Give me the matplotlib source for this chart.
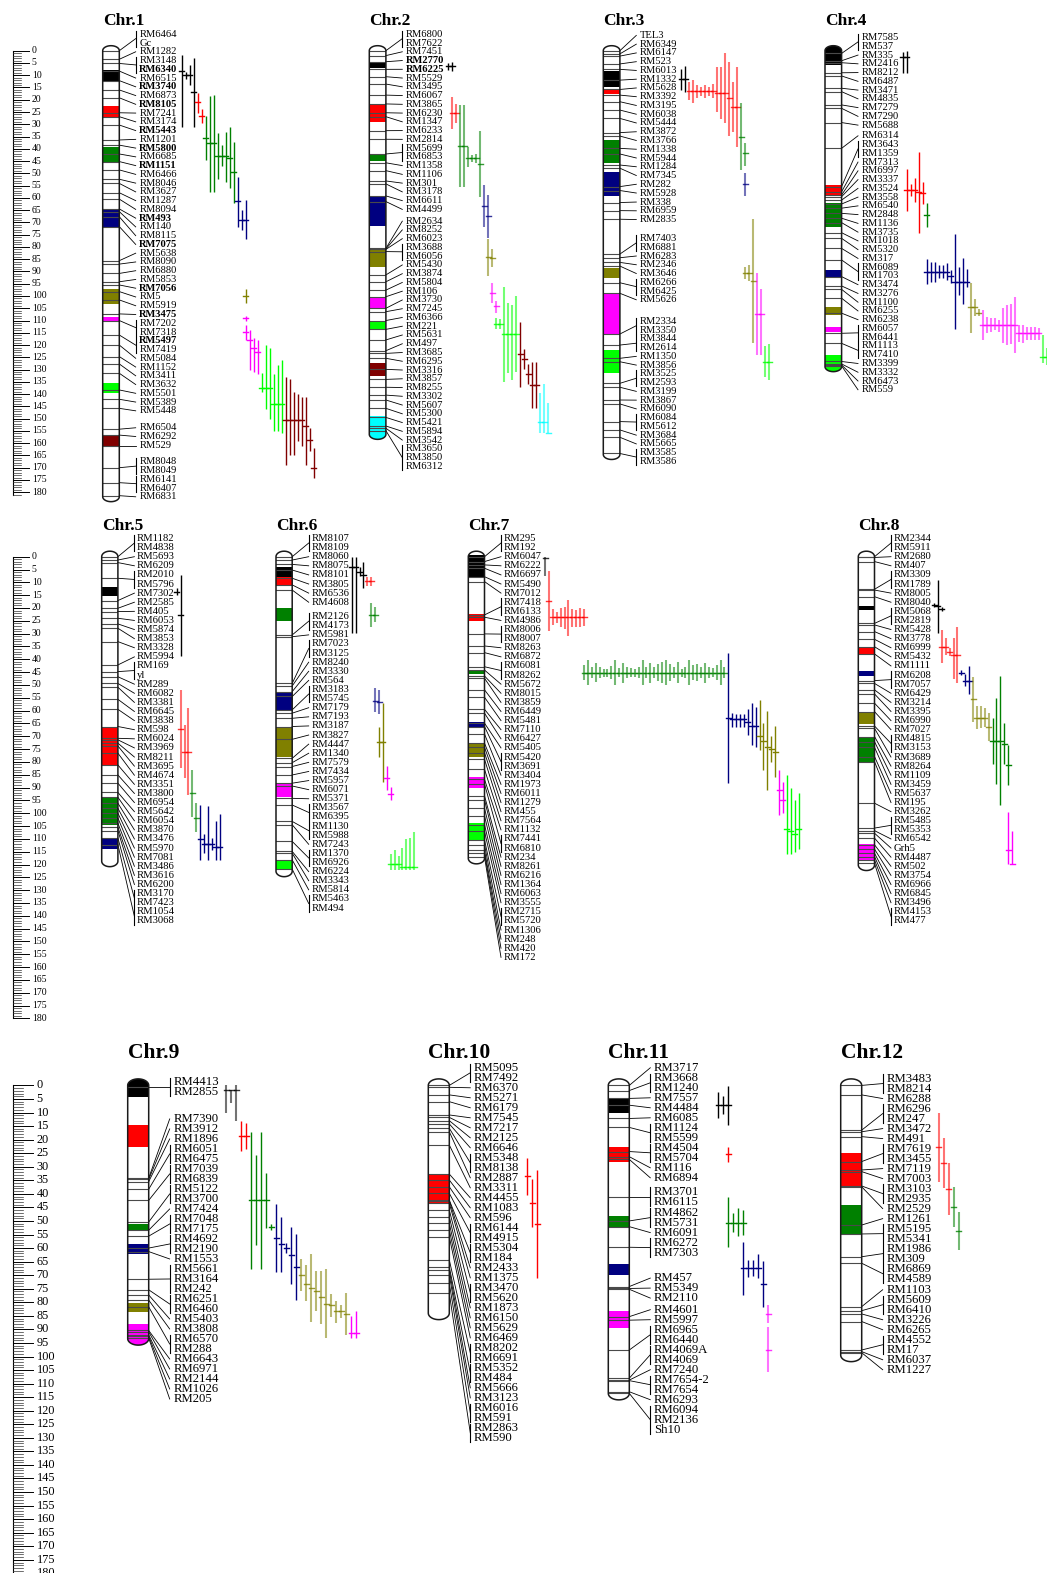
import numpy as np
import matplotlib
matplotlib.use("Agg")
import matplotlib.pyplot as plt
from matplotlib.path import Path
from matplotlib.patches import PathPatch, Rectangle

plt.rcParams['font.family'] = ['Liberation Serif', 'DejaVu Serif']

COLORS = {"black": "#000000", "red": "#ff0000", "green": "#008000", "navy": "#000080",
          "olive": "#808000", "magenta": "#ff00ff", "lime": "#00ff00", "maroon": "#800000",
          "cyan": "#00ffff"}

# ---------------- map data (cM) ----------------
chr1_markers = [("RM6464", 0), ("Gc", 0), ("RM1282", 3.5), ("RM3148", 5.2), ("RM6340", 5.2), ("RM6515", 8.3),
                ("RM3740", 12.2), ("RM6873", 16), ("RM8105", 19.2), ("RM7241", 25.3), ("RM3174", 26.9),
                ("RM5443", 30.3), ("RM1201", 36.4), ("RM5800", 38.5), ("RM6685", 42.1), ("RM1151", 45.2),
                ("RM6466", 48.6), ("RM8046", 52.4), ("RM3627", 54.1), ("RM1287", 57.9), ("RM8094", 60.5),
                ("RM493", 64.5), ("RM140", 65.6), ("RM8115", 67.7), ("RM7075", 71.7), ("RM5638", 85.6),
                ("RM8090", 87), ("RM6880", 90.8), ("RM5853", 94.2), ("RM7056", 95.5), ("RM5", 98.2),
                ("RM5919", 101.6), ("RM3475", 107.3), ("RM7202", 110), ("RM7318", 110), ("RM5497", 115.9),
                ("RM7419", 115.9), ("RM5084", 120), ("RM1152", 124.7), ("RM3411", 127.7), ("RM3632", 131.5),
                ("RM5501", 138.3), ("RM5389", 142.1), ("RM5448", 145.8), ("RM6504", 154.3), ("RM6292", 156.7),
                ("RM529", 161.1), ("RM8048", 170), ("RM8049", 170), ("RM6141", 176.1), ("RM6407", 176.1),
                ("RM6831", 181.4)]
chr1_bold = ["RM6340", "RM3740", "RM8105", "RM5443", "RM5800", "RM1151", "RM493", "RM7075", "RM7056",
             "RM3475", "RM5497"]
chr1_bands = [("black", 7.9, 12.2), ("red", 22.4, 27.3), ("green", 39.1, 45.2), ("navy", 64.5, 71.7),
              ("olive", 97.3, 103.3), ("magenta", 108.4, 110.5), ("lime", 135.6, 139.4), ("maroon", 156.7, 161.1)]
chr1_qtl = [("black", 1.8, 8.2, 31.0), ("black", 8.6, 9.9, 11.5), ("black", 5.8, 9.9, 14.0), ("black", 2.9, 17.0, 31.3),
            ("red", 17.1, 20.8, 25.3), ("red", 23.9, 26.6, 29.3),
            ("green", 26.6, 35.7, 44.6), ("green", 18.5, 37.8, 57.5), ("green", 18.1, 37.8, 57.5),
            ("green", 33.4, 42.9, 52.4), ("green", 38.5, 42.9, 47.0), ("green", 33.0, 42.9, 53.4),
            ("green", 31.0, 43.6, 56.1), ("green", 37.1, 49.6, 62.2),
            ("navy", 51.4, 61.3, 71.7), ("navy", 65.0, 69.0, 73.1), ("navy", 60.9, 69.0, 76.9),
            ("olive", 97.3, 100.0, 103.0),
            ("magenta", 108.2, 109.1, 110.0), ("magenta", 111.8, 114.5, 117.9), ("magenta", 113.9, 118.0, 130.0),
            ("magenta", 117.0, 121.0, 131.0), ("magenta", 118.0, 123.0, 132.0),
            ("lime", 131.5, 137.6, 139.0), ("lime", 120.0, 137.6, 146.0), ("lime", 121.0, 137.6, 150.0),
            ("lime", 132.0, 144.0, 155.0), ("lime", 128.0, 144.0, 155.0), ("lime", 126.0, 144.0, 156.0),
            ("maroon", 133.0, 150.5, 169.0), ("maroon", 134.0, 150.5, 165.0), ("maroon", 139.0, 150.5, 165.0),
            ("maroon", 140.0, 150.5, 159.0), ("maroon", 141.0, 150.5, 161.0), ("maroon", 141.0, 153.0, 169.0),
            ("maroon", 154.0, 158.6, 163.0), ("maroon", 162.0, 170.0, 174.0)]

chr2_markers = [("RM6800", 0), ("RM7622", 0), ("RM7451", 2), ("RM2770", 4.5), ("RM6225", 7.6), ("RM5529", 10.6),
                ("RM3495", 13.6), ("RM6067", 18.1), ("RM3865", 21.7), ("RM6230", 25.3), ("RM1347", 26.9),
                ("RM6233", 32.6), ("RM2814", 36.1), ("RM5699", 42.1), ("RM6853", 42.1), ("RM1358", 45.7),
                ("RM1106", 48.9), ("RM301", 53.1), ("RM3178", 54.3), ("RM6611", 59.2), ("RM4499", 61.5),
                ("RM2634", 80.6), ("RM8252", 80.8), ("RM6023", 81.0), ("RM3688", 81.9), ("RM6056", 81.9),
                ("RM5430", 91.4), ("RM3874", 94.2), ("RM5804", 97.6), ("RM106", 100.3), ("RM3730", 105),
                ("RM7245", 106.4), ("RM6366", 110), ("RM221", 113.6), ("RM5631", 117.9), ("RM497", 122.3),
                ("RM3685", 123.4), ("RM6295", 125.4), ("RM3316", 129.9), ("RM3857", 134), ("RM8255", 137.2),
                ("RM3302", 140.4), ("RM5607", 142.4), ("RM5300", 145.8), ("RM5421", 149.5), ("RM5894", 153),
                ("RM3542", 153.9), ("RM3650", 154.9), ("RM3850", 154.9), ("RM6312", 154.9)]
chr2_bold = ["RM2770", "RM6225"]
chr2_bands = [("black", 4.9, 7.2), ("red", 22, 28.9), ("green", 42.5, 44.8), ("navy", 59.2, 71.5),
              ("olive", 81.2, 88), ("magenta", 100.5, 105), ("lime", 110.5, 113.6), ("maroon", 127.2, 132.6),
              ("cyan", 149, 160)]
chr2_qtl = [("black", 5.2, 6.3, 7.9), ("black", 4.5, 6.3, 8.2),
            ("red", 19.0, 25.3, 32.1), ("red", 21.7, 25.3, 29.3),
            ("green", 22.1, 38.9, 55.7), ("green", 22.1, 38.9, 55.7), ("green", 39.1, 43.9, 47.3),
            ("green", 42.5, 43.9, 45.2), ("green", 42.1, 43.9, 45.7), ("green", 32.6, 46.2, 59.8),
            ("navy", 54.8, 63.3, 71.7), ("navy", 58.8, 67.4, 76.5),
            ("olive", 76.9, 84.2, 91.8), ("olive", 81.0, 84.6, 88.3),
            ("magenta", 94.6, 98.6, 102.7), ("magenta", 101.9, 104.1, 106.8),
            ("lime", 109.1, 111.4, 113.6), ("lime", 109.5, 111.4, 113.6), ("lime", 96.5, 115.5, 134.9),
            ("lime", 103.0, 115.5, 131.5), ("lime", 103.7, 115.5, 134.2), ("lime", 100.0, 115.5, 130.8),
            ("maroon", 110.5, 123.6, 137.2), ("maroon", 121.7, 125.8, 129.9), ("maroon", 127.7, 131.8, 135.9),
            ("maroon", 126.8, 136.3, 145.8), ("maroon", 126.8, 136.3, 145.8),
            ("cyan", 139.7, 151.2, 155.7), ("cyan", 135.9, 151.2, 155.7), ("cyan", 143.5, 155.7, 156.0)]

chr3_markers = [("TEL3", 0), ("RM6349", 1.3), ("RM6147", 2.2), ("RM523", 5.4), ("RM6013", 7.6), ("RM1332", 12),
                ("RM5628", 15.8), ("RM3392", 18.1), ("RM3195", 20.8), ("RM6038", 24.2), ("RM5444", 27.6),
                ("RM3872", 33.4), ("RM3766", 34.8), ("RM1338", 39.8), ("RM5944", 42.1), ("RM1284", 46.6),
                ("RM7345", 47.9), ("RM282", 55.4), ("RM5928", 57), ("RM338", 61.9), ("RM6959", 65.2),
                ("RM2835", 68.7), ("RM7403", 82.9), ("RM6881", 82.9), ("RM6283", 84.4), ("RM2346", 86.3),
                ("RM3646", 87.8), ("RM6266", 94.6), ("RM6425", 94.6), ("RM5626", 98.9), ("RM2334", 115.5),
                ("RM3350", 115.5), ("RM3844", 120), ("RM2614", 120), ("RM1350", 125.4), ("RM3856", 126.8),
                ("RM3525", 135.6), ("RM2593", 135.6), ("RM3199", 137.2), ("RM3867", 142.4), ("RM6090", 144),
                ("RM6084", 151.2), ("RM5612", 151.2), ("RM3684", 154.6), ("RM5665", 157.6), ("RM3585", 164.2),
                ("RM3586", 164.2)]
chr3_bands = [("black", 8.1, 14.7), ("red", 15.5, 17.6), ("green", 36.4, 45.9), ("navy", 49.3, 59.2),
              ("olive", 88.7, 92.8), ("magenta", 98.9, 115.9), ("lime", 122, 131.5)]
chr3_qtl = [("black", 7.6, 11.5, 16.0), ("black", 6.2, 11.5, 16.7),
            ("red", 12.6, 16.4, 20.1), ("red", 11.9, 16.4, 21.2), ("red", 14.0, 16.4, 19.4), ("red", 14.7, 16.4, 18.5),
            ("red", 14.0, 16.4, 19.4), ("red", 14.7, 16.4, 18.5), ("red", 13.6, 16.4, 19.4), ("red", 6.5, 17.1, 24.8),
            ("red", 6.5, 17.1, 27.9), ("red", 0.8, 17.1, 29.6), ("red", 4.5, 19.4, 34.8), ("red", 12.6, 22.8, 33.0),
            ("red", 6.8, 22.8, 39.1),
            ("green", 21.2, 35.0, 48.6), ("green", 37.5, 41.8, 47.0),
            ("navy", 49.7, 54.3, 59.2),
            ("olive", 88.3, 90.7, 93.2), ("olive", 87.4, 90.5, 93.7), ("olive", 68.7, 93.7, 119.3),
            ("magenta", 90.5, 107.3, 124.0), ("magenta", 97.3, 107.3, 124.0),
            ("lime", 120.4, 126.8, 133.1), ("lime", 119.6, 126.8, 134.2)]

chr4_markers = [("RM7585", 1.1), ("RM537", 1.1), ("RM335", 4.1), ("RM2416", 4.9), ("RM8212", 9), ("RM6487", 10.3),
                ("RM3471", 15.3), ("RM4835", 16.7), ("RM7279", 22.1), ("RM7290", 23.5), ("RM5688", 29.3),
                ("RM6314", 39.8), ("RM3643", 55.4), ("RM1359", 55.4), ("RM7313", 57.5), ("RM6997", 58.8),
                ("RM3337", 59.5), ("RM3524", 60.9), ("RM3558", 62.5), ("RM6540", 64.2), ("RM2848", 66.3),
                ("RM1136", 68.3), ("RM3735", 70.1), ("RM1018", 74.2), ("RM5320", 76.5), ("RM317", 80.6),
                ("RM6089", 85.3), ("RM1703", 85.3), ("RM3474", 92.1), ("RM3276", 95.9), ("RM1100", 97.3),
                ("RM6255", 100.9), ("RM6238", 107), ("RM6057", 115.2), ("RM6441", 115.2), ("RM1113", 119.3),
                ("RM7410", 119.3), ("RM3399", 126.7), ("RM3332", 127.7), ("RM6473", 128.1), ("RM559", 128.5)]
chr4_bands = [("black", -3, 5.8), ("red", 54.8, 58.8), ("green", 61.9, 72), ("navy", 89.4, 92.1),
              ("olive", 104.3, 107.7), ("magenta", 112.7, 114.5), ("lime", 124, 132)]
chr4_qtl = [("black", 0.4, 2.7, 9.0), ("black", 0.0, 2.7, 9.2),
            ("red", 48.4, 56.8, 65.2), ("red", 54.4, 56.8, 59.2), ("red", 52.0, 56.8, 61.5), ("red", 41.2, 57.5, 74.4),
            ("red", 53.4, 57.9, 62.5),
            ("green", 61.9, 67.0, 72.0),
            ("navy", 85.0, 90.1, 95.1), ("navy", 86.0, 90.1, 94.1), ("navy", 86.0, 90.1, 94.1),
            ("navy", 87.4, 90.1, 92.8), ("navy", 87.4, 90.1, 92.8), ("navy", 86.7, 90.1, 93.5),
            ("navy", 89.4, 91.8, 94.8), ("navy", 74.7, 94.2, 113.6), ("navy", 88.0, 94.2, 99.6),
            ("navy", 84.6, 94.2, 103.2), ("navy", 89.1, 94.2, 96.2),
            ("olive", 94.8, 104.6, 114.9), ("olive", 101.3, 104.6, 108.1), ("olive", 105.4, 106.8, 108.1),
            ("magenta", 105.7, 111.8, 117.9), ("magenta", 108.4, 111.8, 114.9), ("magenta", 109.1, 111.8, 114.5),
            ("magenta", 109.1, 111.8, 113.8), ("magenta", 109.8, 111.8, 114.5), ("magenta", 105.0, 111.8, 119.3),
            ("magenta", 103.6, 111.8, 120.0), ("magenta", 103.2, 111.8, 119.6), ("magenta", 100.3, 111.8, 123.1),
            ("magenta", 111.8, 115.2, 118.6), ("magenta", 111.8, 115.2, 119.0), ("magenta", 112.5, 115.2, 117.9),
            ("magenta", 112.5, 115.2, 117.9), ("magenta", 112.5, 115.2, 117.9), ("magenta", 113.2, 115.2, 117.9),
            ("lime", 115.9, 125.0, 127.4), ("lime", 121.3, 125.0, 128.1)]

chr5_markers = [("RM1182", 0), ("RM4838", 0), ("RM5693", 1.3), ("RM6209", 2.3), ("RM2010", 8.4), ("RM5796", 8.4),
                ("RM7302", 17.1), ("RM2585", 20.1), ("RM405", 21.4), ("RM6053", 24), ("RM5874", 26.2),
                ("RM3853", 27.9), ("RM3328", 33.1), ("RM5994", 42.2), ("RM169", 44.8), ("yl", 44.8),
                ("RM289", 46.8), ("RM6082", 49.4), ("RM3381", 50.9), ("RM6645", 55.6), ("RM3838", 59.5),
                ("RM598", 66.2), ("RM6024", 70.8), ("RM3969", 71.4), ("RM8211", 72.7), ("RM3695", 73.8),
                ("RM4674", 76.6), ("RM3351", 81.2), ("RM3800", 85.1), ("RM6954", 88.3), ("RM5642", 91.9),
                ("RM6054", 93.8), ("RM3870", 96.1), ("RM3476", 98.1), ("RM5970", 100), ("RM7081", 101.9),
                ("RM3486", 103.9), ("RM3616", 105.5), ("RM6200", 106.8), ("RM3170", 109.7), ("RM7423", 109.7),
                ("RM1054", 112.3), ("RM3068", 112.3)]
chr5_bands = [("black", 11.9, 15.3), ("red", 66.2, 81.6), ("green", 93.8, 104.5), ("navy", 110.1, 114)]
chr5_qtl = [("black", 12.3, 13.6, 14.9), ("black", 7.1, 22.7, 38.6),
            ("red", 51.9, 67.3, 82.5), ("red", 65.6, 76.0, 86.4), ("red", 59.1, 76.0, 92.9),
            ("green", 83.1, 92.2, 101.3), ("green", 96.1, 101.9, 107.5),
            ("navy", 96.8, 110.1, 118.4), ("navy", 108.0, 111.9, 115.6), ("navy", 97.2, 111.9, 118.4),
            ("navy", 109.7, 111.9, 114.5), ("navy", 102.9, 113.2, 118.4), ("navy", 100.3, 113.2, 118.4)]

chr6_markers = [("RM8107", 0), ("RM8109", 0), ("RM8060", 1.3), ("RM8075", 3), ("RM8101", 5.2), ("RM3805", 8.4),
                ("RM6536", 11), ("RM4608", 13), ("RM2126", 30.5), ("RM4173", 30.5), ("RM5981", 31.2),
                ("RM7023", 49.4), ("RM3125", 49.4), ("RM8240", 50.4), ("RM3330", 52.6), ("RM564", 54.5),
                ("RM3183", 59.7), ("RM5745", 59.7), ("RM7179", 61), ("RM7193", 63), ("RM3187", 66.2),
                ("RM3827", 71.2), ("RM4447", 78.6), ("RM1340", 80.3), ("RM7579", 81.8), ("RM7434", 85.1),
                ("RM5957", 88.3), ("RM6071", 89.4), ("RM5371", 94.2), ("RM3567", 96.8), ("RM6395", 96.8),
                ("RM1130", 103.2), ("RM5988", 103.2), ("RM7243", 104.5), ("RM1370", 111), ("RM6926", 111),
                ("RM6224", 114.9), ("RM3343", 115.6), ("RM5814", 118.2), ("RM5463", 121.8), ("RM494", 121.8)]
chr6_bands = [("black", 4.2, 7.8), ("red", 7.8, 11), ("green", 20.1, 24.9), ("navy", 52.6, 59.7),
              ("olive", 66.5, 78.2), ("magenta", 88.3, 93.8), ("lime", 118.4, 121.8)]
chr6_qtl = [("black", 0.0, 4.2, 29.6), ("black", 0.0, 4.2, 29.6), ("black", 4.2, 5.8, 7.5), ("black", 2.0, 7.1, 12.3),
            ("red", 7.8, 9.4, 11.4), ("red", 7.8, 9.4, 11.4),
            ("green", 17.9, 22.7, 27.3), ("green", 19.7, 22.7, 25.3),
            ("navy", 51.3, 56.1, 60.4), ("navy", 51.9, 56.5, 61.3),
            ("olive", 66.2, 72.3, 78.2), ("olive", 56.9, 72.3, 87.7),
            ("magenta", 81.6, 86.4, 90.9), ("magenta", 89.6, 92.5, 94.8),
            ("lime", 115.8, 119.7, 122.3), ("lime", 114.3, 119.7, 122.1), ("lime", 116.6, 119.7, 122.3),
            ("lime", 113.6, 120.8, 122.1), ("lime", 110.1, 120.8, 122.1), ("lime", 109.7, 120.8, 122.1),
            ("lime", 107.5, 120.8, 122.1)]

chr7_markers = [("RM295", 0), ("RM192", 0), ("RM6047", 1.9), ("RM6222", 3.2), ("RM6697", 4.5), ("RM5490", 7.8),
                ("RM7012", 9.7), ("RM7418", 22.7), ("RM6133", 22.7), ("RM4986", 23.6), ("RM8006", 30.1),
                ("RM8007", 30.1), ("RM8263", 34.8), ("RM6872", 37.4), ("RM6081", 42.9), ("RM8262", 42.9),
                ("RM5672", 44.2), ("RM8015", 46.5), ("RM3859", 47.4), ("RM6449", 51.9), ("RM5481", 54.8),
                ("RM7110", 59.5), ("RM6427", 61), ("RM5405", 64.9), ("RM5420", 66.2), ("RM3691", 66.2),
                ("RM3404", 69.1), ("RM1973", 72.7), ("RM6011", 74.3), ("RM1279", 76.4), ("RM455", 79),
                ("RM7564", 82.9), ("RM1132", 86.8), ("RM7441", 88.6), ("RM6810", 88.6), ("RM234", 93.2),
                ("RM8261", 94.8), ("RM6216", 98.1), ("RM1364", 101), ("RM6063", 104.5), ("RM3555", 107.1),
                ("RM2715", 110.4), ("RM5720", 110.4), ("RM1306", 112.3), ("RM248", 114.5), ("RM420", 115.6),
                ("RM172", 117.1)]
chr7_bands = [("black", -0.6, 7.8), ("red", 22.3, 24.9), ("green", 44.4, 45.7), ("navy", 64.3, 66.5),
              ("olive", 72.7, 77.9), ("magenta", 86, 90.3), ("lime", 103.9, 110.4)]
chr7_green_lo = [42.2, 40.3, 42.9, 41.6, 43.1, 43.9, 43.9, 42.6, 40.3, 43.5, 41.3, 42.9, 43.5, 43.9, 43.1, 40.3,
                 42.9, 41.3, 42.9, 41.8, 40.9, 40.3, 41.8, 42.9, 40.9, 43.9, 42.9, 40.3, 42.2, 41.8, 42.9, 41.3,
                 42.9, 43.5, 42.2, 40.3, 42.9]
chr7_green_hi = [48.1, 50.0, 47.4, 48.7, 47.4, 46.8, 46.8, 47.8, 50.0, 47.0, 49.1, 47.4, 46.8, 46.8, 47.4, 50.0,
                 47.4, 49.1, 47.4, 48.3, 49.4, 50.0, 48.3, 47.4, 49.1, 46.8, 47.4, 50.0, 48.1, 48.3, 47.4, 49.1,
                 47.4, 47.0, 48.1, 50.0, 47.4]
chr7_qtl = ([("black", 0.0, 0.6, 7.5),
             ("red", 5.5, 17.1, 28.8), ("red", 20.5, 23.6, 26.6), ("red", 21.4, 23.6, 26.0), ("red", 20.1, 23.6, 27.3),
             ("red", 19.5, 23.6, 28.3), ("red", 16.9, 23.6, 30.9), ("red", 20.5, 23.6, 27.5), ("red", 20.8, 23.6, 27.3),
             ("red", 20.1, 23.6, 27.5), ("red", 20.5, 23.6, 27.0)]
            + [("green", lo, 45.2, hi) for lo, hi in zip(chr7_green_lo, chr7_green_hi)]
            + [("navy", 37.7, 63.0, 88.3), ("navy", 61.0, 63.4, 66.5), ("navy", 61.3, 63.4, 66.2),
               ("navy", 61.3, 63.4, 66.2), ("navy", 61.3, 63.4, 66.2), ("navy", 59.5, 64.5, 69.5),
               ("navy", 57.0, 66.0, 73.4), ("navy", 58.5, 66.0, 74.0),
               ("olive", 56.0, 70.0, 75.4), ("olive", 65.0, 72.0, 83.0), ("olive", 60.0, 74.0, 91.0),
               ("olive", 70.0, 75.0, 80.0), ("olive", 66.0, 76.0, 86.0),
               ("magenta", 83.0, 91.0, 100.7), ("magenta", 88.0, 95.0, 100.0),
               ("lime", 85.0, 106.0, 116.0), ("lime", 90.0, 107.0, 116.0), ("lime", 95.0, 108.0, 115.0),
               ("lime", 92.0, 106.0, 114.0)])

chr8_markers = [("RM2344", 0), ("RM5911", 0), ("RM2680", 0.3), ("RM407", 1.9), ("RM3309", 12.7), ("RM1789", 12.7),
                ("RM8005", 13.0), ("RM8040", 15.6), ("RM5068", 26), ("RM2819", 26), ("RM5428", 26.6),
                ("RM3778", 29.2), ("RM6999", 32.2), ("RM5432", 35.1), ("RM1111", 37.9), ("RM6208", 48.3),
                ("RM7057", 48.3), ("RM6429", 49.4), ("RM3214", 51.9), ("RM3395", 53.5), ("RM6990", 57.1),
                ("RM7027", 60.4), ("RM4815", 66), ("RM3153", 66), ("RM3689", 66.9), ("RM8264", 70.1),
                ("RM1109", 72.1), ("RM3459", 74.3), ("RM5637", 77.9), ("RM195", 79.9), ("RM3262", 96.1),
                ("RM5485", 105.8), ("RM5353", 105.8), ("RM6542", 106.8), ("Grh5", 107.8), ("RM4487", 109.7),
                ("RM502", 112.3), ("RM3754", 114), ("RM6966", 115.6), ("RM6845", 116.9), ("RM3496", 118.2),
                ("RM4153", 119.5), ("RM477", 119.5)]
chr8_bands = [("black", 19.2, 20.8), ("red", 35.1, 38.3), ("navy", 44.5, 46.4), ("olive", 60.4, 65.2),
              ("green", 70.4, 79.9), ("magenta", 112, 118.8)]
chr8_qtl = [("black", 18.2, 19.0, 19.7), ("black", 9.1, 19.2, 29.6), ("black", 19.7, 20.4, 21.0),
            ("red", 28.6, 35.1, 41.3), ("red", 31.6, 35.1, 38.3), ("red", 35.7, 37.3, 38.9), ("red", 31.8, 38.3, 47.8),
            ("red", 27.3, 38.3, 49.4),
            ("navy", 44.2, 45.2, 46.1), ("navy", 45.7, 48.3, 50.4), ("navy", 42.6, 48.3, 53.5),
            ("olive", 47.0, 55.6, 64.3), ("olive", 58.2, 63.0, 67.3), ("olive", 58.4, 63.0, 66.9),
            ("olive", 59.1, 63.0, 66.5), ("olive", 60.8, 66.2, 71.7),
            ("green", 63.0, 71.7, 80.8), ("green", 55.2, 71.7, 88.6), ("green", 46.5, 71.7, 96.8),
            ("green", 64.9, 73.0, 80.8), ("green", 73.4, 81.2, 89.0),
            ("magenta", 99.4, 114.3, 119.7), ("magenta", 106.8, 119.7, 119.7)]

chr9_markers = [("RM4413", 0.6), ("RM2855", 0.6), ("RM7390", 34.2), ("RM3912", 34.7), ("RM1896", 35.5),
                ("RM6051", 38.3), ("RM6475", 38.3), ("RM7039", 42.4), ("RM6839", 42.4), ("RM5122", 50.4),
                ("RM3700", 50.4), ("RM7424", 53.4), ("RM7048", 55.6), ("RM7175", 55.6), ("RM4692", 60),
                ("RM2190", 60), ("RM1553", 61.3), ("RM5661", 71.5), ("RM3164", 71.5), ("RM242", 71.5),
                ("RM6251", 75.4), ("RM6460", 75.4), ("RM5403", 77.3), ("RM3808", 79.2), ("RM6570", 81.7),
                ("RM288", 81.7), ("RM6643", 90.4), ("RM6971", 90.9), ("RM2144", 92), ("RM1026", 92.6),
                ("RM205", 93.2)]
chr9_bands = [("black", -3, 4.1), ("red", 14.7, 22.7), ("green", 51.1, 53.4), ("navy", 58.5, 62.3),
              ("olive", 80.2, 83.7), ("magenta", 87.9, 97)]
chr9_qtl = [("black", 0.0, 1.7, 10.0), ("black", 1.7, 1.7, 6.6), ("black", 0.0, 1.7, 13.2),
            ("red", 13.0, 18.5, 24.3), ("red", 13.8, 18.5, 23.6),
            ("green", 17.2, 42.4, 67.7), ("green", 25.5, 42.4, 59.0), ("green", 17.2, 42.4, 67.7),
            ("green", 32.2, 42.4, 52.6), ("green", 51.3, 52.1, 53.4),
            ("navy", 43.7, 56.4, 69.0), ("navy", 48.5, 58.5, 69.0), ("navy", 58.1, 60.0, 61.9),
            ("navy", 52.1, 62.6, 73.1), ("navy", 54.9, 67.0, 79.2),
            ("olive", 64.1, 70.0, 76.0), ("olive", 66.4, 73.1, 79.4), ("olive", 62.3, 74.7, 87.1),
            ("olive", 68.3, 76.0, 83.3), ("olive", 68.3, 77.9, 87.9), ("olive", 67.7, 80.5, 93.0),
            ("olive", 76.9, 81.1, 85.3), ("olive", 79.4, 83.3, 87.5), ("olive", 81.1, 83.3, 85.8),
            ("olive", 76.6, 84.5, 92.2),
            ("magenta", 84.9, 91.3, 93.2), ("magenta", 83.3, 91.3, 93.2)]

chr10_markers = [("RM5095", 0), ("RM7492", 0), ("RM6370", 0.7), ("RM5271", 3.5), ("RM6179", 6), ("RM7545", 10.9),
                 ("RM7217", 11.8), ("RM2125", 13), ("RM6646", 14.2), ("RM5348", 15.8), ("RM8138", 15.8),
                 ("RM2887", 17.1), ("RM3311", 22), ("RM4455", 32.7), ("RM1083", 34.9), ("RM596", 37.4),
                 ("RM6144", 39.8), ("RM4915", 39.8), ("RM5304", 42.3), ("RM184", 42.3), ("RM2433", 42.5),
                 ("RM1375", 43.5), ("RM3470", 46), ("RM5620", 46), ("RM1873", 48.4), ("RM6150", 50.9),
                 ("RM5629", 53.3), ("RM6469", 55.8), ("RM8202", 64.4), ("RM6691", 64.4), ("RM5352", 66.9),
                 ("RM484", 66.9), ("RM5666", 68.1), ("RM3123", 69.9), ("RM6016", 73), ("RM591", 73),
                 ("RM2863", 76.7), ("RM590", 76.7)]
chr10_bands = [("red", 32.7, 43.5)]
chr10_qtl = [("red", 26.9, 33.4, 40.4), ("red", 34.7, 43.3, 52.1), ("red", 31.2, 51.1, 71.2)]

chr11_markers = [("RM3717", 0), ("RM3668", 1.9), ("RM1240", 1.9), ("RM7557", 4.8), ("RM4484", 7.3),
                 ("RM6085", 12.2), ("RM1124", 15.5), ("RM5599", 15.5), ("RM4504", 24.4), ("RM5704", 24.4),
                 ("RM116", 26.3), ("RM6894", 27.3), ("RM3701", 41), ("RM6115", 41), ("RM4862", 50),
                 ("RM5731", 50), ("RM6091", 52.1), ("RM6272", 59.7), ("RM7303", 59.7), ("RM457", 74.2),
                 ("RM5349", 74.9), ("RM2110", 75.2), ("RM4601", 85.3), ("RM5997", 86.6), ("RM6965", 97.6),
                 ("RM6440", 97.6), ("RM4069A", 108), ("RM4069", 108), ("RM7240", 108.7), ("RM7654-2", 108.9),
                 ("RM7654", 108.9), ("RM6293", 113), ("RM6094", 113.6), ("RM2136", 113.6), ("Sh10", 113.6)]
chr11_bands = [("black", 4.8, 10.1), ("red", 22.6, 28.1), ("green", 48.2, 52.7), ("navy", 65.9, 69.9),
               ("magenta", 83.1, 89.6)]
chr11_qtl = [("black", 2.3, 7.3, 12.2), ("black", 3.9, 7.3, 10.6), ("black", 0.2, 7.3, 14.6),
             ("red", 22.8, 25.3, 28.1),
             ("green", 41.3, 50.6, 59.7), ("green", 47.2, 50.6, 54.0), ("green", 45.4, 50.6, 55.6),
             ("green", 46.0, 50.6, 55.2),
             ("navy", 57.7, 67.5, 77.3), ("navy", 64.4, 67.5, 70.6), ("navy", 64.4, 67.5, 70.3),
             ("navy", 62.2, 67.5, 71.2), ("navy", 64.7, 73.3, 81.6),
             ("magenta", 81.0, 84.4, 87.8), ("magenta", 89.3, 97.6, 105.6)]

chr12_markers = [("RM3483", 0), ("RM8214", 0), ("RM6288", 3.5), ("RM6296", 16.5), ("RM247", 16.5),
                 ("RM3472", 17.1), ("RM491", 18.9), ("RM7619", 28.1), ("RM3455", 28.1), ("RM7119", 31.2),
                 ("RM7003", 31.8), ("RM3103", 37.1), ("RM2935", 37.1), ("RM2529", 37.4), ("RM1261", 51.5),
                 ("RM5195", 54.8), ("RM5341", 54.8), ("RM1986", 63.2), ("RM309", 63.2), ("RM6869", 65.6),
                 ("RM4589", 65.6), ("RM1103", 81.6), ("RM5609", 83.1), ("RM6410", 83.1), ("RM3226", 84.3),
                 ("RM6265", 87.1), ("RM4552", 97.6), ("RM17", 97.6), ("RM6037", 98.2), ("RM1227", 98.6)]
chr12_bands = [("red", 25.1, 37.1), ("green", 44.1, 54.8)]
chr12_qtl = [("red", 10.3, 22.9, 35.5), ("red", 19.5, 28.7, 38.0), ("red", 28.7, 38.3, 47.8),
             ("green", 37.6, 45.0, 52.1), ("green", 46.6, 53.6, 60.7)]

chrom_names = ["Chr.1", "Chr.2", "Chr.3", "Chr.4", "Chr.5", "Chr.6", "Chr.7", "Chr.8",
               "Chr.9", "Chr.10", "Chr.11", "Chr.12"]
chrom_lengths = [181.8, 156.4, 164.6, 128.8, 118.7, 122.6, 117.6, 120.2, 93.4, 84.0, 113.6, 99.5]
all_markers = [chr1_markers, chr2_markers, chr3_markers, chr4_markers, chr5_markers, chr6_markers,
               chr7_markers, chr8_markers, chr9_markers, chr10_markers, chr11_markers, chr12_markers]
all_bands = [chr1_bands, chr2_bands, chr3_bands, chr4_bands, chr5_bands, chr6_bands,
             chr7_bands, chr8_bands, chr9_bands, chr10_bands, chr11_bands, chr12_bands]
all_qtl = [chr1_qtl, chr2_qtl, chr3_qtl, chr4_qtl, chr5_qtl, chr6_qtl,
           chr7_qtl, chr8_qtl, chr9_qtl, chr10_qtl, chr11_qtl, chr12_qtl]
all_bold = [chr1_bold, chr2_bold] + [[]] * 10

# ---------------- layout ----------------
W, H = 1047, 1573
ROWS = [
    dict(px=(0, 505), zero=50.7, scale=2.453, chr_w=16.6, cap=5.0, link=16.4, text=20.0, gap=3.57, lo=-6.7,
         fs=7.6, tfs=12.5, rfs=7.0, step=4.0, ruler_end=181, minor=21.0, major=29.0, num_x=31.7),
    dict(px=(505, 1030), zero=556.7, scale=2.565, chr_w=16.2, cap=5.5, link=16.5, text=19.0, gap=3.55, lo=-7.1,
         fs=7.7, tfs=12.5, rfs=7.0, step=3.9, ruler_end=180, minor=21.0, major=29.0, num_x=31.7),
    dict(px=(1030, 1573), zero=1085.4, scale=2.711, chr_w=21.0, cap=6.5, link=21.0, text=24.5, gap=3.69, lo=-6.5,
         fs=9.2, tfs=15.5, rfs=8.8, step=5.0, ruler_end=180, minor=23.3, major=33.3, num_x=36.7),
]
CHR_ROW = [0, 0, 0, 0, 1, 1, 1, 1, 2, 2, 2, 2]
CHR_X = [102.7, 369.3, 603.3, 825.0, 101.7, 276.0, 468.3, 858.3, 127.7, 428.3, 608.3, 840.7]
QTL_X = [181.7, 448.3, 681.0, 902.7, 176.7, 351.7, 545.0, 934.0, 226.0, 527.3, 718.3, 938.7]
LIGHT = {
    "Chr.2": {"red", "green", "navy", "olive", "magenta", "lime", "cyan"},
    "Chr.3": {"red", "green", "navy", "olive", "magenta", "lime"},
    "Chr.4": {"olive", "magenta", "lime"},
    "Chr.5": {"red", "green"},
    "Chr.6": {"red", "green", "navy", "lime"},
    "Chr.7": {"black", "red", "green"},
    "Chr.8": {"red", "olive"},
    "Chr.9": {"black", "olive"},
    "Chr.11": {"magenta"},
    "Chr.12": {"red", "green"},
}


def spread(want, gap, lo):
    # push overlapping labels apart, centring each crowded block on its markers
    clusters = []
    for i in range(len(want)):
        clusters.append([i, i, want[i]])
        while True:
            a, b, _ = clusters[-1]
            n = b - a + 1
            clusters[-1][2] = max(np.mean(want[a:b + 1]) - (n - 1) * gap / 2, lo)
            if len(clusters) > 1:
                pa, pb, ptop = clusters[-2]
                if ptop + (pb - pa + 1) * gap > clusters[-1][2]:
                    clusters[-2][1] = b
                    clusters.pop()
                    continue
            break
    ys = []
    for a, b, top in clusters:
        ys += [top + k * gap for k in range(b - a + 1)]
    return ys


def draw_ruler(ax, row):
    x0 = 12.7
    ax.plot([x0, x0], [0, row["ruler_end"]], color="black", lw=0.8)
    for v in range(row["ruler_end"] + 1):
        if v % 5 == 0:
            ax.plot([x0, row["major"]], [v, v], color="black", lw=0.7)
            ax.text(row["num_x"], v, str(v), fontsize=row["rfs"], va="center", ha="left")
        else:
            ax.plot([x0, row["minor"]], [v, v], color="#333333", lw=0.5)


def draw_chromosome(ax, row, k):
    title = chrom_names[k]
    length = chrom_lengths[k]
    mk = all_markers[k]
    x0 = CHR_X[k]
    w = row["chr_w"]
    cap = row["cap"] / row["scale"]
    xr = x0 + w
    xc = x0 + w / 2

    t = np.linspace(np.pi, 2 * np.pi, 30)
    top = np.column_stack([xc + w / 2 * np.cos(t), cap * np.sin(t)])
    t2 = np.linspace(0, np.pi, 30)
    bottom = np.column_stack([xc + w / 2 * np.cos(t2), length + cap * np.sin(t2)])
    verts = np.vstack([top, bottom, top[:1]])
    codes = [Path.MOVETO] + [Path.LINETO] * (len(verts) - 2) + [Path.CLOSEPOLY]
    shape = Path(verts, codes)
    body = PathPatch(shape, facecolor="white", edgecolor="none", zorder=2)
    ax.add_patch(body)

    for trait, a, b in all_bands[k]:
        r = Rectangle((x0 - 2, a), w + 4, b - a, facecolor=COLORS[trait], edgecolor="none", zorder=3)
        ax.add_patch(r)
        r.set_clip_path(body)
    for p in sorted(set(p for _, p in mk)):
        ln, = ax.plot([x0, xr], [p, p], color="#4a4a4a", lw=0.8, zorder=4)
        ln.set_clip_path(body)
    ax.add_patch(PathPatch(shape, facecolor="none", edgecolor="#1a1a1a", lw=1.1, zorder=5))

    ax.text(x0, -12.1, title, fontsize=row["tfs"], fontweight="bold", va="center", ha="left")

    # marker names with their leader lines
    names = [n for n, _ in mk]
    want = [p for _, p in mk]
    gap = row["gap"]
    ys = spread(want, gap, row["lo"])
    xl = xr + row["link"]
    xt = xr + row["text"]
    i = 0
    while i < len(mk):
        j = i
        while j + 1 < len(mk) and want[j + 1] == want[i]:
            j += 1
        yc = (ys[i] + ys[j]) / 2
        ax.plot([xr, xl], [want[i], yc], color="black", lw=0.6, zorder=4)
        if j > i:
            ax.plot([xl, xl], [ys[i] - gap * 0.42, ys[j] + gap * 0.42], color="black", lw=0.8)
        i = j + 1
    bold = set(all_bold[k])
    for n, y in zip(names, ys):
        ax.text(xt, y, n, fontsize=row["fs"], va="center", ha="left",
                fontweight="bold" if n in bold else "normal")

    # QTL intervals, stepped into a new column whenever they overlap the previous one
    light = LIGHT.get(title, set())
    col = 0
    prev = None
    for trait, lo, pk, hi in all_qtl[k]:
        if prev is not None and lo <= prev[1] and hi >= prev[0]:
            col += 1
        prev = (lo, hi)
        x = QTL_X[k] + col * row["step"]
        soft = trait in light
        c = COLORS[trait]
        ax.plot([x, x], [lo, hi], color=c, lw=1.5 if soft else 1.0, alpha=0.55 if soft else 1.0,
                solid_capstyle="butt")
        ax.plot([x - 2.5, x + 2.5], [pk, pk], color=c, lw=1.0, alpha=0.8 if soft else 1.0)


fig = plt.figure(figsize=(W / 100, H / 100), dpi=100)
fig.patch.set_facecolor("white")
axes = []
for row in ROWS:
    t_px, b_px = row["px"]
    ax = fig.add_axes([0, 1 - b_px / H, 1, (b_px - t_px) / H])
    ax.set_xlim(0, W)
    ax.set_ylim((b_px - row["zero"]) / row["scale"], (t_px - row["zero"]) / row["scale"])
    ax.axis("off")
    draw_ruler(ax, row)
    axes.append(ax)

for k in range(len(chrom_names)):
    draw_chromosome(axes[CHR_ROW[k]], ROWS[CHR_ROW[k]], k)

fig.savefig("out.png", dpi=100)
